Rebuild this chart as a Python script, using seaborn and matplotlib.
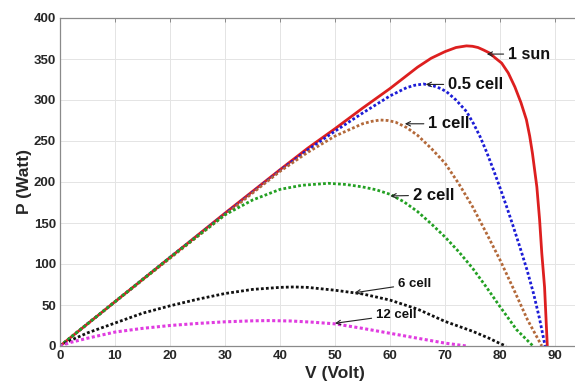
import numpy as np
import pandas as pd
import seaborn as sns
import matplotlib.pyplot as plt

# === data ===
v_sun = [0, 10, 20, 30, 40, 45, 50, 55, 60, 65, 67.5, 70, 72, 73.9, 75, 76, 77, 78.2, 79, 80.3, 81.5,
         82.7, 83.8, 84.8, 85.4, 85.9, 86.7, 87.2, 87.6, 88.1, 88.6]
p_sun = [0, 54, 108, 162, 215, 241, 265, 290, 314, 340, 351, 359, 364, 366, 365.5, 364, 361, 357, 352, 345, 333,
         316, 297, 276, 256, 235, 194, 154, 113, 72, 0]

v_half = [0, 10, 20, 30, 40, 45, 50, 55, 60, 63, 64.5, 66.1, 68, 69.2, 70.3, 72, 73.9, 75.2, 76.4, 77.6,
          78.8, 80, 81.2, 82.4, 83.6, 84.9, 86.1, 87.2, 88.2]
p_half = [0, 54, 108, 161, 214, 239, 262, 284, 305, 315, 318, 319.5, 317, 314, 310, 300, 286, 271, 255, 236,
          215, 193, 170, 146, 121, 93, 64, 33, 0]

v_one = [0, 10, 20, 30, 40, 45, 50, 55, 56.7, 58.2, 59.6, 61, 63, 65, 67.5, 70, 72.5, 75, 77.5, 80, 82.5, 85, 87.6]
p_one = [0, 54, 107, 160, 213, 236, 256, 271, 274, 275.6, 275, 273, 266.5, 257, 241, 223, 198, 170, 138, 105, 69, 32, 0]

v_two = [0, 10, 20, 25, 30, 35, 40, 44, 48.8, 52, 55, 57.5, 60, 62.5, 65, 67.5, 70, 72.5, 75, 77.5, 80, 83, 86]
p_two = [0, 54, 108, 134, 160, 178, 191, 196, 198.4, 197, 194, 190.5, 185, 176, 164, 149, 133, 115, 95, 72, 48, 20, 0]

v_six = [0, 2, 5, 10, 15, 20, 25, 30, 35, 40, 42.5, 45, 50, 55, 60, 65, 70, 75, 78, 80, 81.1]
p_six = [0, 7, 16, 28, 40, 49, 57, 64, 69, 71.5, 72, 71.5, 68, 63.5, 56, 45, 30, 18, 9.5, 3, 0]

v_twelve = [0, 2, 5, 10, 15, 20, 25, 30, 35, 38, 42, 46, 50, 55, 60, 65, 70, 73.9]
p_twelve = [0, 4.5, 9.5, 17, 21.5, 25, 27.5, 29.5, 30.7, 31, 30.5, 29, 27, 21.5, 15.5, 9.5, 3.5, 0]

labels = ['1 sun', '0.5 cell', '1 cell', '2 cell', '6 cell', '12 cell']
arrow_xy = [(77.6, 356), (66.5, 319), (62.7, 271), (60.1, 183), (53.6, 65), (50, 27.7)]
text_xy = [(81.5, 356), (70.6, 319), (67, 271), (64.2, 184), (61.5, 76), (57.5, 38)]
label_sizes = [11.5, 12, 12, 12, 9.5, 9.5]

x_ticks = list(range(0, 100, 10))
y_ticks = list(range(0, 450, 50))

# === style ===
sns.set_theme(style='whitegrid')
plt.rcParams['font.family'] = ['Liberation Sans', 'DejaVu Sans']

fig = plt.figure(figsize=(5.75, 3.85), dpi=100)
ax = fig.add_axes([60 / 575, 39 / 385, 550 / 575, 328 / 385])

curves = [
    (v_sun, p_sun, '#dd1f1f', '-', 2.0),
    (v_half, p_half, '#1c1cd6', (0, (1, 0.8)), 2.0),
    (v_one, p_one, '#b3693a', (0, (1, 0.8)), 2.0),
    (v_two, p_two, '#23a023', (0, (1, 0.8)), 2.0),
    (v_six, p_six, '#111111', (0, (1, 0.8)), 2.0),
    (v_twelve, p_twelve, '#e03ce0', (0, (1, 0.8)), 2.2),
]
for (v, p, col, ls, lw), name in zip(curves, labels):
    df = pd.DataFrame({'V': v, 'P': p})
    sns.lineplot(data=df, x='V', y='P', ax=ax, color=col, linestyle=ls,
                 linewidth=lw, sort=False, estimator=None, legend=False)

for name, xy, xt, fs in zip(labels, arrow_xy, text_xy, label_sizes):
    ax.annotate(name, xy=xy, xytext=xt, ha='left', va='center',
                fontsize=fs, fontweight='bold', color='#111111',
                arrowprops=dict(arrowstyle='->', color='#222222', lw=0.8,
                                shrinkA=1, shrinkB=0, mutation_scale=8))

ax.set_xlim(0, 100)
ax.set_ylim(0, 400)
ax.set_xticks(x_ticks)
ax.set_yticks(y_ticks)
ax.grid(True, color='#e4e4e4', linewidth=0.7)
for s in ax.spines.values():
    s.set_color('#8a8a8a')
    s.set_linewidth(0.9)
ax.tick_params(direction='in', length=3, width=0.7, color='#8a8a8a',
               top=True, right=True, labelsize=9.5, pad=3)
for lab in ax.get_xticklabels() + ax.get_yticklabels():
    lab.set_fontweight('bold')
ax.set_xlabel('V (Volt)', fontsize=12.5, fontweight='bold', labelpad=3)
ax.set_ylabel('P (Watt)', fontsize=12.5, fontweight='bold', labelpad=1)

plt.savefig('out.png', dpi=100)
